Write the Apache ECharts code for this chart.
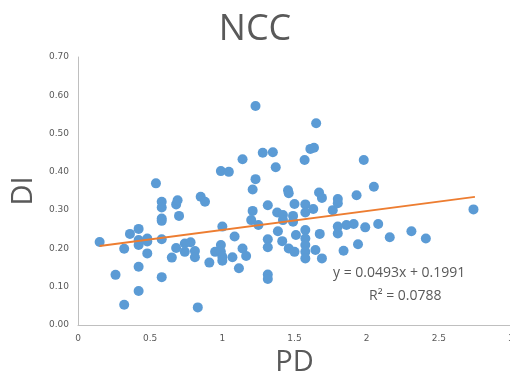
<!DOCTYPE html>
<html>
<head>
<meta charset="utf-8">
<script src="https://cdn.jsdelivr.net/npm/echarts@6/dist/echarts.min.js"></script>
<style>
  html, body { margin: 0; padding: 0; background: #fff; }
  #chart { width: 510px; height: 375px; }
</style>
</head>
<body>
<div id="chart"></div>
<script>
// PD (x) and DI (y), one entry per dot
var pdValues = [
  0.15, 0.26, 0.32, 0.32, 0.36, 0.42, 0.42, 0.42, 0.42, 0.42,
  0.48, 0.48, 0.48, 0.54, 0.58, 0.58, 0.58, 0.58, 0.58, 0.58,
  0.65, 0.68, 0.69, 0.70, 0.68, 0.74, 0.78, 0.74, 0.81, 0.81,
  0.83, 0.85, 0.88, 0.91, 0.95, 0.99, 1.00, 0.99, 0.99, 1.00,
  1.00, 1.045, 1.085, 1.07, 1.115, 1.14, 1.165, 1.14, 1.20, 1.21,
  1.21, 1.23, 1.23, 1.25, 1.28, 1.315, 1.315, 1.315, 1.315, 1.315,
  1.35, 1.37, 1.38, 1.385, 1.42, 1.42, 1.415, 1.455, 1.46, 1.46,
  1.49, 1.49, 1.50, 1.50, 1.51, 1.57, 1.575, 1.575, 1.575, 1.575,
  1.575, 1.575, 1.575, 1.61, 1.635, 1.63, 1.645, 1.65, 1.67, 1.675,
  1.69, 1.69, 1.765, 1.80, 1.80, 1.80, 1.80, 1.84, 1.86, 1.91,
  1.93, 1.94, 1.98, 1.99, 2.05, 2.08, 2.16, 2.31, 2.41, 2.74
];
var diValues = [
  0.217, 0.131, 0.199, 0.053, 0.238, 0.251, 0.222, 0.209, 0.152, 0.089,
  0.226, 0.218, 0.187, 0.370, 0.322, 0.307, 0.278, 0.272, 0.224, 0.125,
  0.176, 0.315, 0.326, 0.285, 0.201, 0.213, 0.216, 0.191, 0.193, 0.177,
  0.046, 0.335, 0.322, 0.163, 0.191, 0.402, 0.257, 0.209, 0.191, 0.178,
  0.168, 0.400, 0.231, 0.177, 0.148, 0.200, 0.180, 0.433, 0.274, 0.298,
  0.354, 0.381, 0.572, 0.261, 0.450, 0.313, 0.224, 0.203, 0.132, 0.120,
  0.451, 0.412, 0.294, 0.245, 0.287, 0.274, 0.219, 0.352, 0.344, 0.200,
  0.285, 0.270, 0.316, 0.191, 0.235, 0.431, 0.315, 0.294, 0.248, 0.226,
  0.209, 0.191, 0.174, 0.460, 0.463, 0.303, 0.196, 0.527, 0.346, 0.238,
  0.332, 0.174, 0.300, 0.329, 0.318, 0.257, 0.239, 0.194, 0.261, 0.264,
  0.339, 0.211, 0.431, 0.255, 0.361, 0.264, 0.229, 0.245, 0.226, 0.302
];
// linear trend line as printed on the chart
var trendSlope = 0.0493;
var trendIntercept = 0.1991;
var trendRange = [0.15, 2.75];
var equationLines = ["y = 0.0493x + 0.1991", "R² = 0.0788"];

var scatterData = pdValues.map(function (x, i) {
  return [x, diValues[i]];
});
var trendData = trendRange.map(function (x) {
  return [x, trendSlope * x + trendIntercept];
});

var chart = echarts.init(document.getElementById("chart"));
var option = {
  backgroundColor: "#fff",
  animation: false,
  title: {
    text: "NCC",
    left: "center",
    top: 7,
    textStyle: {
      fontFamily: "Open Sans",
      fontWeight: 400,
      fontSize: 36,
      color: "#595959",
    },
  },
  grid: {
    left: 78,
    top: 57,
    width: 433,
    height: 268,
    outerBoundsMode: "none",
  },
  //横坐标
  xAxis: {
    type: "value",
    min: 0,
    max: 3,
    interval: 0.5,
    name: "PD",
    nameLocation: "middle",
    nameGap: 22,
    nameTextStyle: {
      fontFamily: "Open Sans",
      fontSize: 29,
      color: "#595959",
    },
    axisLine: {
      show: true,
      lineStyle: { color: "#BFBFBF", width: 1 },
    },
    axisTick: { show: false },
    splitLine: { show: false },
    axisLabel: {
      margin: 9,
      fontFamily: "DejaVu Sans",
      fontSize: 9,
      color: "#595959",
      showMaxLabel: true,
    },
  },
  //纵坐标
  yAxis: {
    type: "value",
    min: 0,
    max: 0.7,
    interval: 0.1,
    name: "DI",
    nameLocation: "middle",
    nameRotate: 90,
    nameGap: 33,
    nameTextStyle: {
      fontFamily: "Open Sans",
      fontSize: 29,
      color: "#595959",
    },
    axisLine: {
      show: true,
      lineStyle: { color: "#BFBFBF", width: 1 },
    },
    axisTick: { show: false },
    splitLine: { show: false },
    axisLabel: {
      margin: 9,
      fontFamily: "DejaVu Sans",
      fontSize: 9,
      color: "#595959",
      formatter: function (v) {
        return v.toFixed(2);
      },
    },
  },
  graphic: [
    {
      type: "text",
      left: 333,
      top: 266,
      style: {
        text: equationLines[0],
        font: "14px 'Open Sans'",
        fill: "#595959",
      },
    },
    {
      type: "text",
      left: 369,
      top: 289,
      style: {
        text: equationLines[1],
        font: "14px 'Open Sans'",
        fill: "#595959",
      },
    },
  ],
  series: [
    {
      name: "DI",
      type: "scatter",
      data: scatterData,
      symbolSize: 10,
      itemStyle: { color: "#5B9BD5", opacity: 1 },
      z: 2,
    },
    {
      name: "trend",
      type: "line",
      data: trendData,
      symbol: "none",
      lineStyle: { color: "#ED7D31", width: 2 },
      z: 3,
    },
  ],
};
chart.setOption(option);
</script>
</body>
</html>
